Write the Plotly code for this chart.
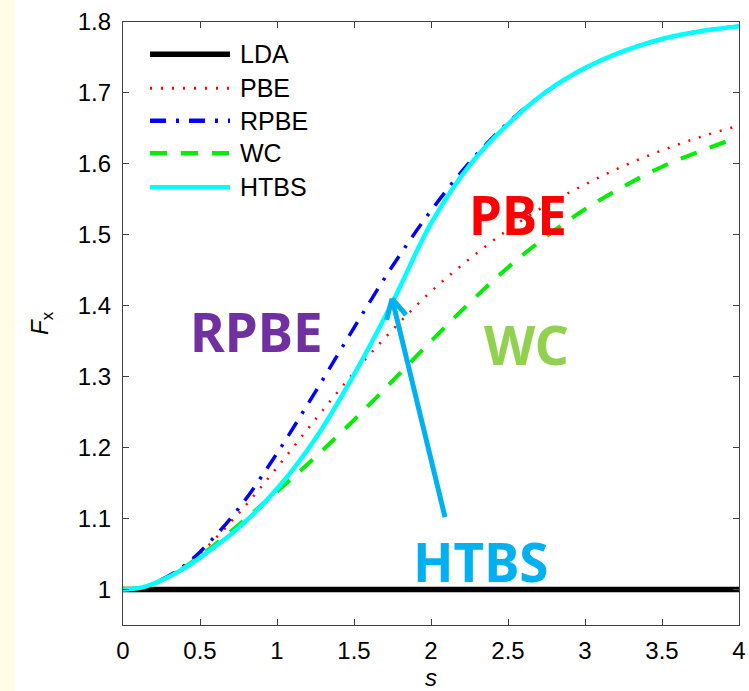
import plotly.graph_objects as go

# ---- data ----
s_vals = [0, 0.125, 0.25, 0.375, 0.5, 0.75, 1.0, 1.25, 1.5, 1.75, 2.0, 2.25, 2.5, 2.75, 3.0, 3.25, 3.5, 3.75, 4.0]
lda = [1.0] * len(s_vals)
pbe = [1.000, 1.003, 1.013, 1.030, 1.051, 1.107, 1.172, 1.240, 1.306, 1.366, 1.420, 1.466, 1.507, 1.542, 1.571, 1.597, 1.619, 1.638, 1.654]
rpbe = [1.000, 1.003, 1.014, 1.030, 1.053, 1.114, 1.192, 1.279, 1.369, 1.456, 1.534, 1.602, 1.658, 1.702, 1.735, 1.759, 1.776, 1.787, 1.794]
wc = [1.000, 1.003, 1.013, 1.028, 1.047, 1.091, 1.138, 1.187, 1.239, 1.294, 1.350, 1.404, 1.454, 1.498, 1.536, 1.568, 1.596, 1.618, 1.638]
htbs = [1.000, 1.003, 1.013, 1.027, 1.045, 1.087, 1.142, 1.213, 1.303, 1.405, 1.516, 1.598, 1.656, 1.702, 1.735, 1.759, 1.776, 1.787, 1.794]

x_ticks = [0, 0.5, 1, 1.5, 2, 2.5, 3, 3.5, 4]
x_tick_text = ["0", "0.5", "1", "1.5", "2", "2.5", "3", "3.5", "4"]
y_ticks = [1, 1.1, 1.2, 1.3, 1.4, 1.5, 1.6, 1.7, 1.8]
y_tick_text = ["1", "1.1", "1.2", "1.3", "1.4", "1.5", "1.6", "1.7", "1.8"]

series = [
    ("LDA", lda, "#000000", 5.5, "solid"),
    ("PBE", pbe, "#FF0000", 2.5, "2px,9px"),
    ("RPBE", rpbe, "#0000FF", 3.5, "16px,10px,3px,10px"),
    ("WC", wc, "#00EE00", 4, "17px,14px"),
    ("HTBS", htbs, "#00FFFF", 4.5, "solid"),
]

fig = go.Figure()
for name, ys, col, w, dash in series:
    fig.add_trace(go.Scatter(x=s_vals, y=ys, name=name, mode="lines",
                             line=dict(color=col, width=w, dash=dash, shape="spline", smoothing=1.0),
                             showlegend=False))

# manual legend (long line samples like the reference)
leg_y = [0.9465, 0.890, 0.8362, 0.7824, 0.726]
shapes = []
annotations = []
for (name, ys, col, w, dash), yy in zip(series, leg_y):
    shapes.append(dict(type="line", xref="paper", yref="paper", x0=0.0438, x1=0.1737, y0=yy, y1=yy,
                       line=dict(color=col, width=max(w, 4.5) if dash != "2px,9px" else 3, dash=dash)))
    annotations.append(dict(xref="paper", yref="paper", x=0.1867, y=yy, xanchor="left", yanchor="middle",
                            text=name, showarrow=False,
                            font=dict(family="Liberation Sans, Arial", size=25, color="#000000")))

# yellow strip on the left edge
shapes.append(dict(type="rect", xref="paper", yref="paper", x0=-0.21, x1=-0.1753, y0=-0.3, y1=1.3,
                   fillcolor="#FFFDE6", line=dict(width=0), layer="below"))

# arrow pointing at HTBS curve
arrow_col = "#00B0F0"
shapes.append(dict(type="line", xref="x", yref="y", x0=2.091, y0=1.102, x1=1.747, y1=1.410,
                   line=dict(color=arrow_col, width=5)))
shapes.append(dict(type="line", xref="x", yref="y", x0=1.747, y0=1.410, x1=1.712, y1=1.380,
                   line=dict(color=arrow_col, width=5)))
shapes.append(dict(type="line", xref="x", yref="y", x0=1.747, y0=1.410, x1=1.838, y1=1.387,
                   line=dict(color=arrow_col, width=5)))

big_font = "Noto Sans, Liberation Sans, Arial"
labels = [
    ("PBE", 2.565, 1.528, "#FF0000"),
    ("RPBE", 0.864, 1.364, "#7030A0"),
    ("WC", 2.620, 1.346, "#92D050"),
    ("HTBS", 2.325, 1.039, "#00B0F0"),
]
for txt, xx, yy, col in labels:
    annotations.append(dict(x=xx, y=yy, xref="x", yref="y", text="<b>" + txt + "</b>", showarrow=False,
                            xanchor="center", yanchor="middle",
                            font=dict(family=big_font, size=53, color=col)))

axis_common = dict(showline=True, linecolor="#404040", linewidth=1.3, mirror="allticks",
                   ticks="inside", ticklen=6, tickwidth=1.3, tickcolor="#404040",
                   showgrid=False, zeroline=False,
                   tickfont=dict(family="Liberation Sans, Arial", size=24, color="#000000"))

fig.update_layout(
    width=749, height=691,
    margin=dict(l=123, r=10, t=22, b=66),
    paper_bgcolor="#FFFFFF", plot_bgcolor="#FFFFFF",
    shapes=shapes, annotations=annotations,
    xaxis=dict(range=[0, 4], tickvals=x_ticks, ticktext=x_tick_text,
               title=dict(text="<i>s</i>", standoff=14,
                          font=dict(family="Liberation Sans, Arial", size=24, color="#000000")),
               ticklabelstandoff=4, automargin=False, **axis_common),
    yaxis=dict(range=[0.95, 1.8], tickvals=y_ticks, ticktext=y_tick_text,
               title=dict(text="<i>F</i><sub>x</sub>", standoff=22,
                          font=dict(family="Liberation Sans, Arial", size=24, color="#000000")),
               ticklabelstandoff=6, automargin=False, **axis_common),
)

fig.write_html("out.html")
